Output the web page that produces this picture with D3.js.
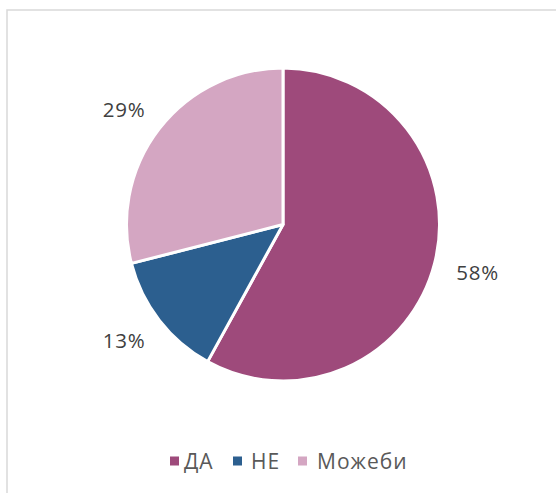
<!DOCTYPE html>
<html>
<head>
<meta charset="utf-8">
<script src="https://cdn.jsdelivr.net/npm/d3@7"></script>
<style>
  body { margin: 0; background: #fff; }
  text { font-family: "Open Sans", "Noto Sans", sans-serif; }
</style>
</head>
<body>
<div id="chart"></div>
<script>
// data
var categories = ["ДА", "НЕ", "Можеби"];
var values = [58, 13, 29];
var colors = ["#9E4A7B", "#2C5F8F", "#D4A6C2"];

var width = 556, height = 493;
var cx = 283, cy = 224.5, radius = 156.5;

var svg = d3.select("#chart").append("svg")
    .attr("width", width)
    .attr("height", height);

// chart frame (only top/left visible in the crop)
svg.append("rect")
    .attr("x", 7).attr("y", 10)
    .attr("width", 600).attr("height", 600)
    .attr("fill", "none")
    .attr("stroke", "#D9D9D9")
    .attr("stroke-width", 1.5);

var data = categories.map(function (c, i) { return { name: c, value: values[i], color: colors[i] }; });

var pie = d3.pie().sort(null).value(function (d) { return d.value; });
var arc = d3.arc().innerRadius(0).outerRadius(radius);

var g = svg.append("g").attr("transform", "translate(" + cx + "," + cy + ")");

var arcs = pie(data);

g.selectAll("path")
    .data(arcs)
    .enter().append("path")
    .attr("d", arc)
    .attr("fill", function (d) { return d.data.color; })
    .attr("stroke", "#fff")
    .attr("stroke-width", 3)
    .attr("stroke-linejoin", "round");

// labels: anchor outside the slice, box pushed outward along the angle
var labelR = 179, boxW = 44, boxH = 20;
g.selectAll(".lbl")
    .data(arcs)
    .enter().append("text")
    .attr("class", "lbl")
    .attr("x", function (d) {
        var a = (d.startAngle + d.endAngle) / 2;
        return labelR * Math.sin(a) + boxW / 2 * Math.sin(a);
    })
    .attr("y", function (d) {
        var a = (d.startAngle + d.endAngle) / 2;
        return -labelR * Math.cos(a) - boxH / 2 * Math.cos(a);
    })
    .attr("text-anchor", "middle")
    .attr("dominant-baseline", "central")
    .attr("font-size", 20.5)
    .attr("letter-spacing", 0.8)
    .attr("fill", "#404040")
    .text(function (d) { return d.data.value + "%"; });

// legend
var legendItems = [
    { sq: 170, tx: 184 },
    { sq: 233, tx: 251 },
    { sq: 298, tx: 317 }
];
var legend = svg.append("g").attr("transform", "translate(0,461)");
var item = legend.selectAll("g")
    .data(data)
    .enter().append("g")
    .attr("transform", function (d, i) { return "translate(" + legendItems[i].sq + ",0)"; });

item.append("rect")
    .attr("x", 0).attr("y", -4.5)
    .attr("width", 9).attr("height", 9)
    .attr("fill", function (d) { return d.color; });

item.append("text")
    .attr("x", function (d, i) { return legendItems[i].tx - legendItems[i].sq; })
    .attr("y", 0)
    .attr("dominant-baseline", "central")
    .attr("font-size", 21)
    .attr("letter-spacing", 1)
    .attr("fill", "#595959")
    .text(function (d) { return d.name; });
</script>
</body>
</html>
